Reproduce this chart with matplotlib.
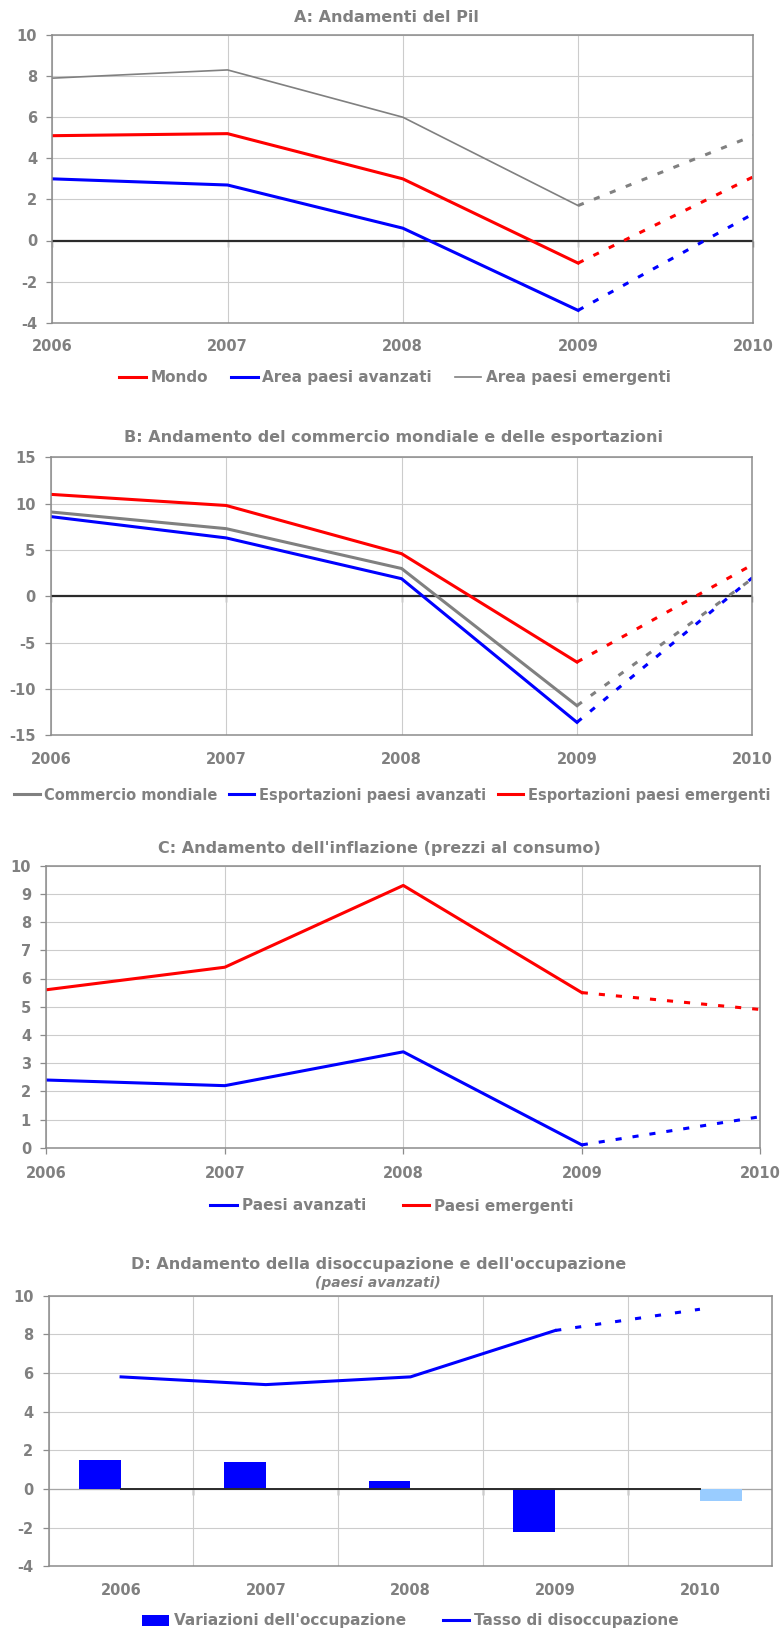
import numpy as np
import matplotlib.pyplot as plt

plt.rcParams['font.family'] = ['DejaVu Sans']
plt.rcParams['font.weight'] = 'bold'
plt.rcParams['axes.unicode_minus'] = False

# valori, l'ultimo anno e' la previsione (tratteggiata)
anni = [2006, 2007, 2008, 2009, 2010]

pil_mondo = [5.1, 5.2, 3.0, -1.1, 3.1]
pil_avanzati = [3.0, 2.7, 0.6, -3.4, 1.3]
pil_emergenti = [7.9, 8.3, 6.0, 1.7, 5.1]

commercio_mondiale = [9.1, 7.3, 3.0, -11.8, 1.9]
export_avanzati = [8.6, 6.3, 1.9, -13.6, 2.0]
export_emergenti = [11.0, 9.8, 4.6, -7.1, 3.4]

inflazione_avanzati = [2.4, 2.2, 3.4, 0.1, 1.1]
inflazione_emergenti = [5.6, 6.4, 9.3, 5.5, 4.9]

occupazione = [1.5, 1.4, 0.4, -2.2, np.nan]
occupazione_prev = [np.nan, np.nan, np.nan, np.nan, -0.6]
disoccupazione = [5.8, 5.4, 5.8, 8.2, 9.3]

GRIGIO = '#808080'
BORDO = '#8c8c8c'
ROSSO = '#ff0000'
BLU = '#0000ff'
AZZURRO = '#99ccff'
NERO = '#2b2b2b'
PUNTI = (0, (2, 3.6))
W, H = 782, 1630

fig = plt.figure(figsize=(W / 100, H / 100), dpi=100)


def assi(x0, x1, y0, y1):
    return fig.add_axes([x0 / W, 1 - y1 / H, (x1 - x0) / W, (y1 - y0) / H])


def serie(ax, x, y, col, lw, label):
    ax.plot(x[:4], y[:4], color=col, lw=lw, label=label)
    ax.plot(x[3:], y[3:], color=col, lw=2.2, ls=PUNTI)


def stile(ax, ymin, ymax, passo):
    ax.set_ylim(ymin, ymax)
    ax.set_yticks(np.arange(ymin, ymax + passo / 2, passo))
    ax.grid(True, color='#cccccc', lw=0.8)
    ax.set_axisbelow(True)
    for s in ax.spines.values():
        s.set_color(BORDO)
        s.set_linewidth(1.1)
    ax.tick_params(axis='y', length=4, width=0.9, color=BORDO, pad=7,
                   labelsize=10.5, labelcolor=GRIGIO)
    ax.tick_params(axis='x', which='both', length=0, pad=12,
                   labelsize=10.5, labelcolor=GRIGIO)


def tacche_zero(ax, ymin, ymax, tick, col_tick=GRIGIO):
    # tacche dell'asse delle categorie, che incrocia lo zero
    sec = ax.secondary_xaxis(-ymin / (ymax - ymin))
    sec.set_alignment('bottom')
    sec.set_xticks(tick)
    sec.tick_params(axis='x', direction='out', length=4, width=1, color=col_tick,
                    labelbottom=False, labeltop=False)
    for s in sec.spines.values():
        s.set_visible(False)


def legenda(ax, cx, cy, spazio, ordine=None, size=11):
    h, l = ax.get_legend_handles_labels()
    if ordine:
        h = [h[l.index(o)] for o in ordine]
        l = list(ordine)
    fig.legend(h, l, loc='center', bbox_to_anchor=(cx / W, 1 - cy / H), ncol=len(h),
               frameon=False, fontsize=size, handlelength=1.75, handletextpad=0.3,
               columnspacing=spazio, labelcolor=GRIGIO, borderaxespad=0, borderpad=0)


# A
ax = assi(52.3, 753.3, 35, 322.7)
ax.axhline(0, color=NERO, lw=1.6, zorder=1.8)
serie(ax, anni, pil_mondo, ROSSO, 2.2, 'Mondo')
serie(ax, anni, pil_avanzati, BLU, 2.2, 'Area paesi avanzati')
serie(ax, anni, pil_emergenti, GRIGIO, 1.2, 'Area paesi emergenti')
ax.set_xlim(anni[0], anni[-1])
ax.set_xticks(anni)
stile(ax, -4, 10, 2)
tacche_zero(ax, -4, 10, anni)
fig.text(386 / W, 1 - 18 / H, 'A: Andamenti del Pil', ha='center', va='center',
         fontsize=11.5, color=GRIGIO)
legenda(ax, 395, 377.5, 1.5)

# B
ax = assi(50.8, 752.3, 457.3, 735.3)
ax.axhline(0, color=NERO, lw=1.6, zorder=1.8)
serie(ax, anni, commercio_mondiale, GRIGIO, 2.2, 'Commercio mondiale')
serie(ax, anni, export_avanzati, BLU, 2.2, 'Esportazioni paesi avanzati')
serie(ax, anni, export_emergenti, ROSSO, 2.2, 'Esportazioni paesi emergenti')
ax.set_xlim(anni[0], anni[-1])
ax.set_xticks(anni)
stile(ax, -15, 15, 5)
tacche_zero(ax, -15, 15, anni)
fig.text(393 / W, 1 - 437.3 / H, 'B: Andamento del commercio mondiale e delle esportazioni',
         ha='center', va='center', fontsize=11.5, color=GRIGIO)
legenda(ax, 392, 795, 0.8, size=10.5)

# C
ax = assi(46.3, 760.3, 865.7, 1147.7)
serie(ax, anni, inflazione_avanzati, BLU, 2.2, 'Paesi avanzati')
serie(ax, anni, inflazione_emergenti, ROSSO, 2.2, 'Paesi emergenti')
ax.set_xlim(anni[0], anni[-1])
ax.set_xticks(anni)
stile(ax, 0, 10, 1)
ax.tick_params(axis='x', length=4, width=0.9, color=BORDO, pad=9)
fig.text(379 / W, 1 - 848 / H, "C: Andamento dell'inflazione (prezzi al consumo)",
         ha='center', va='center', fontsize=11.5, color=GRIGIO)
legenda(ax, 392, 1206, 2.4)

# D
ax = assi(48.7, 772.3, 1295.7, 1566.3)
pos = np.arange(len(anni))
larg = 0.29
ax.bar(pos - larg / 2, occupazione, larg, color=BLU, label="Variazioni dell'occupazione")
ax.bar(pos + larg / 2, occupazione_prev, larg, color=AZZURRO)
ax.plot(pos, np.zeros(len(pos)), color=NERO, lw=1.4)
ax.plot(pos[:4], disoccupazione[:4], color=BLU, lw=2.2, label='Tasso di disoccupazione')
ax.plot(pos[3:], disoccupazione[3:], color=BLU, lw=2.2, ls=(0, (2, 4.6)))
ax.set_xlim(-0.5, len(anni) - 0.5)
ax.set_xticks(np.arange(-0.5, len(anni)), labels=[])
ax.set_xticks(pos, labels=anni, minor=True)
stile(ax, -4, 10, 2)
ax.axhline(0, color='#a6a6a6', lw=0.9, zorder=0.6)
tacche_zero(ax, -4, 10, pos[:-1] + 0.5, col_tick='#555555')
fig.text(379 / W, 1 - 1265 / H, "D: Andamento della disoccupazione e dell'occupazione",
         ha='center', va='center', fontsize=11.5, color=GRIGIO)
fig.text(378 / W, 1 - 1283 / H, '(paesi avanzati)', ha='center', va='center',
         fontsize=10, style='italic', color=GRIGIO)
legenda(ax, 410.5, 1621, 2.4,
        ordine=["Variazioni dell'occupazione", 'Tasso di disoccupazione'])

fig.savefig('out.png', dpi=100)
